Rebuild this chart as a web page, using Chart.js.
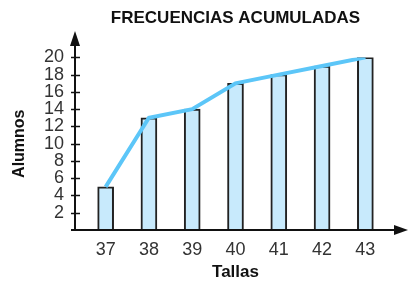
<!DOCTYPE html>
<html lang="es">
<head>
    <meta charset="UTF-8">
    <title>Frecuencias acumuladas</title>
    <script src="https://cdn.jsdelivr.net/npm/chart.js"></script>
    <style>
        html, body {
            margin: 0;
            padding: 0;
            background: #fff;
        }
        #wrap {
            width: 413px;
            height: 285px;
        }
    </style>
</head>
<body>
    <div id="wrap"><canvas id="chart" width="413" height="285"></canvas></div>

    <script>
        // datos
        const tallas = ['37', '38', '39', '40', '41', '42', '43'];
        const alumnos = [5, 13, 14, 17, 18, 19, 20];
        const yTicks = [2, 4, 6, 8, 10, 12, 14, 16, 18, 20];

        const AXIS_X = 75;   // where the y axis line sits
        const ink = '#111';

        // axes with arrows, drawn by hand since they go past the chart area
        const arrowAxes = {
            id: 'arrowAxes',
            afterDatasetsDraw(chart) {
                const ctx = chart.ctx;
                const y0 = chart.scales.y.getPixelForValue(0);
                ctx.save();
                ctx.strokeStyle = ink;
                ctx.fillStyle = ink;
                ctx.lineWidth = 2;

                // x axis
                ctx.beginPath();
                ctx.moveTo(71, y0);
                ctx.lineTo(398, y0);
                ctx.stroke();
                ctx.beginPath();
                ctx.moveTo(408, y0);
                ctx.lineTo(394, y0 - 5);
                ctx.lineTo(394, y0 + 5);
                ctx.closePath();
                ctx.fill();

                // y axis
                ctx.beginPath();
                ctx.moveTo(AXIS_X, y0);
                ctx.lineTo(AXIS_X, 42);
                ctx.stroke();
                ctx.beginPath();
                ctx.moveTo(AXIS_X, 31);
                ctx.lineTo(AXIS_X - 5, 46);
                ctx.lineTo(AXIS_X + 5, 46);
                ctx.closePath();
                ctx.fill();

                // tick marks crossing the y axis
                ctx.lineWidth = 1.5;
                yTicks.forEach(v => {
                    const py = Math.round(chart.scales.y.getPixelForValue(v)) + 0.5;
                    ctx.beginPath();
                    ctx.moveTo(AXIS_X - 4, py);
                    ctx.lineTo(AXIS_X + 5, py);
                    ctx.stroke();
                });
                ctx.restore();
            }
        };

        new Chart(document.getElementById('chart'), {
            data: {
                labels: tallas,
                datasets: [
                    {
                        type: 'line',
                        data: alumnos,
                        borderColor: '#5cc6f8',
                        borderWidth: 4,
                        pointRadius: 0,
                        tension: 0,
                        order: 0
                    },
                    {
                        type: 'bar',
                        data: alumnos,
                        backgroundColor: '#c8eafc',
                        borderColor: '#222',
                        borderWidth: 2,
                        barThickness: 16,
                        order: 1
                    }
                ]
            },
            options: {
                responsive: false,
                animation: false,
                layout: {
                    padding: { left: 0, right: 26, top: 0, bottom: 0 }
                },
                plugins: {
                    legend: { display: false },
                    tooltip: { enabled: false },
                    title: {
                        display: true,
                        fullSize: false,
                        text: 'FRECUENCIAS ACUMULADAS',
                        color: '#111',
                        font: { family: 'Liberation Sans', size: 17, weight: 'bold' },
                        padding: { top: 8, bottom: 29 }
                    }
                },
                scales: {
                    x: {
                        grid: { display: false, drawTicks: false },
                        border: { display: false },
                        ticks: {
                            color: '#333',
                            padding: 9,
                            font: { family: 'Liberation Sans', size: 18 }
                        },
                        title: {
                            display: true,
                            text: 'Tallas',
                            color: '#111',
                            font: { family: 'Liberation Sans', size: 17, weight: 'bold' },
                            padding: { top: 0, bottom: 2 }
                        },
                        afterFit(scale) { scale.height = 55; }
                    },
                    y: {
                        min: 0,
                        max: 20,
                        grid: { display: false, drawTicks: false },
                        border: { display: false },
                        afterBuildTicks(scale) {
                            scale.ticks = yTicks.map(v => ({ value: v }));
                        },
                        ticks: {
                            color: '#333',
                            padding: 20,
                            autoSkip: false,
                            font: { family: 'Liberation Sans', size: 18 }
                        },
                        title: {
                            display: true,
                            text: 'Alumnos',
                            color: '#111',
                            font: { family: 'Liberation Sans', size: 16, weight: 'bold' },
                            padding: { top: 10, bottom: 0 }
                        },
                        afterFit(scale) { scale.width = 84; }
                    }
                }
            },
            plugins: [arrowAxes]
        });
    </script>
</body>
</html>
